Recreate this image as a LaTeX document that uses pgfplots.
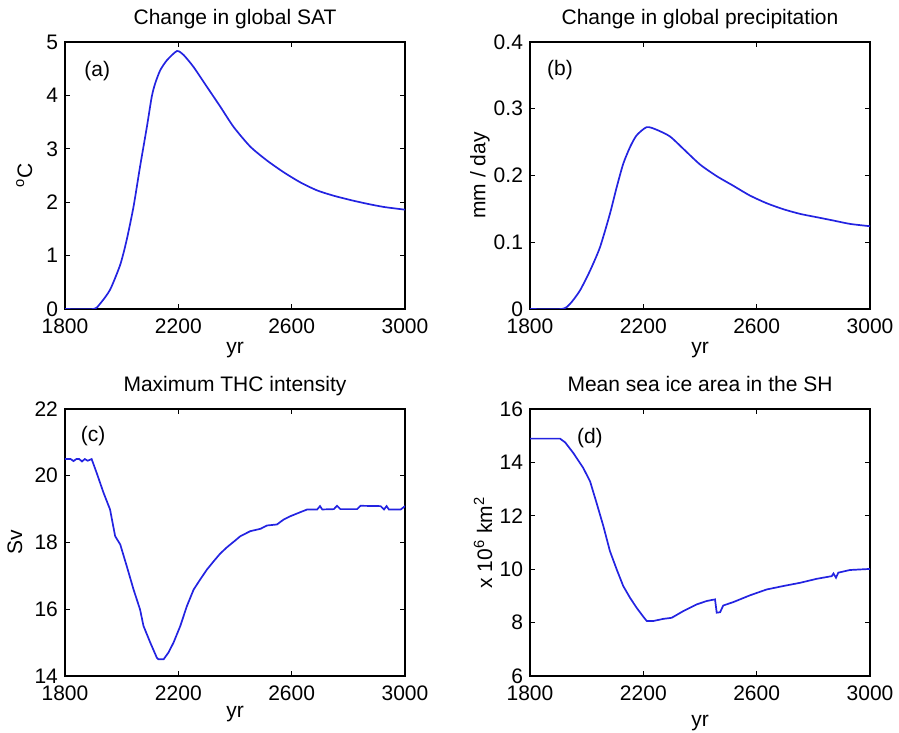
\documentclass[border=0pt]{standalone}
\usepackage{fontspec}
\setmainfont{Liberation Sans}
\usepackage{pgfplots}
\pgfplotsset{compat=1.18}

\definecolor{mblue}{RGB}{35,35,225}

\pgfplotsset{
  every axis title/.style={at={(0.5,1.064)}, anchor=base, inner sep=0pt},
  every axis title shift=0pt,
  panel/.style={
    scale only axis,
    width=170pt, height=133.5pt,
    anchor=south west,
    xmin=1800, xmax=3000,
    xtick={1800,2200,2600,3000},
    tick align=inside,
    major tick length=2.5pt,
    axis line style={line width=0.6pt},
    every tick/.style={black, line width=0.5pt},
    font=\fontsize{10.5}{12}\selectfont,
    tick label style={font=\fontsize{10.5}{12}\selectfont},
    xticklabel style={yshift=-1.5pt},
    /pgf/number format/assume math mode=true,
    /pgf/number format/1000 sep={},
    xlabel={yr},
    xlabel style={at={(axis description cs:0.5,-0.154)}, anchor=center, inner sep=0pt},
    ylabel style={at={(axis description cs:-0.12,0.5)}, anchor=center, rotate=0, inner sep=0pt},
  },
  curve/.style={mblue, line width=0.85pt, no markers},
}

\begin{document}
\begin{tikzpicture}
\path[use as bounding box] (0,0) rectangle (449.5pt,366.5pt);

% (a)
\begin{axis}[panel, at={(32.5pt,212pt)},
  ymin=0, ymax=5, ytick={0,1,2,3,4,5},
  title={Change in global SAT}, ylabel={\textsuperscript{o}C}]
\addplot[curve, smooth, tension=0.4] coordinates {
(1800,0) (1900,0) (1924,0.10) (1959,0.36) (1995,0.83) (2018,1.30) (2042,1.92)
(2065,2.67) (2089,3.41) (2106,3.97) (2118,4.22) (2136,4.47) (2160,4.66)
(2195,4.83) (2218,4.76) (2254,4.53) (2301,4.16) (2348,3.79) (2395,3.41)
(2454,3.04) (2513,2.78) (2572,2.56) (2631,2.37) (2690,2.22) (2749,2.12)
(2808,2.04) (2867,1.97) (2926,1.91) (3000,1.86)
};
\node[anchor=center] at (rel axis cs:0.095,0.89) {(a)};
\end{axis}

% (b)
\begin{axis}[panel, at={(265pt,212pt)},
  ymin=0, ymax=0.4, ytick={0,0.1,0.2,0.3,0.4},
  yticklabel style={/pgf/number format/fixed},
  title={Change in global precipitation}, ylabel={mm / day},
  ylabel style={at={(axis description cs:-0.147,0.5)}, rotate=0}]
\addplot[curve, smooth, tension=0.4] coordinates {
(1800,0) (1912,0) (1941,0.0075) (1976,0.0275) (2012,0.0575) (2047,0.0925)
(2082,0.1425) (2106,0.1825) (2129,0.2175) (2153,0.2425) (2176,0.26)
(2212,0.2725) (2247,0.2685) (2294,0.2585) (2341,0.24) (2400,0.2165)
(2459,0.199) (2518,0.1845) (2576,0.17) (2635,0.1585) (2694,0.1495)
(2753,0.1425) (2812,0.1375) (2871,0.1325) (2929,0.1275) (3000,0.124)
};
\node[anchor=center] at (rel axis cs:0.088,0.895) {(b)};
\end{axis}

% (c)
\begin{axis}[panel, at={(32.5pt,28.5pt)},
  ymin=14, ymax=22, ytick={14,16,18,20,22},
  title={Maximum THC intensity}, ylabel={Sv},
  ylabel style={at={(axis description cs:-0.147,0.5)}},
  xlabel style={at={(axis description cs:0.5,-0.142)}}]
\addplot[curve] coordinates {
(1800,20.5) (1820,20.5) (1830,20.44) (1840,20.5) (1850,20.5) (1860,20.43)
(1870,20.5) (1880,20.45) (1894,20.5) (1912,20.08) (1936,19.49) (1959,18.99)
(1977,18.19) (1995,17.94) (2018,17.29) (2042,16.59) (2065,15.99) (2077,15.5)
(2101,15.0) (2124,14.55) (2130,14.5) (2148,14.5) (2165,14.7) (2183,15.0)
(2207,15.5) (2230,16.09) (2254,16.59) (2277,16.89) (2301,17.19) (2325,17.44)
(2348,17.67) (2372,17.86) (2395,18.02) (2419,18.19) (2454,18.34) (2490,18.41)
(2513,18.51) (2548,18.54) (2572,18.69) (2596,18.79) (2631,18.91) (2655,18.99)
(2690,18.99) (2700,19.09) (2708,18.99) (2749,19.0) (2760,19.1) (2772,19.0)
(2831,19.0) (2843,19.1) (2914,19.09) (2926,18.99) (2935,19.09) (2943,18.99)
(2985,18.99) (3000,19.09)
};
\node[anchor=center] at (rel axis cs:0.083,0.9) {(c)};
\end{axis}

% (d)
\begin{axis}[panel, at={(265pt,28.5pt)},
  ymin=6, ymax=16, ytick={6,8,10,12,14,16},
  title={Mean sea ice area in the SH},
  ylabel={x 10\textsuperscript{6} km\textsuperscript{2}},
  ylabel style={at={(axis description cs:-0.138,0.5)}},
  xlabel style={at={(axis description cs:0.5,-0.176)}}]
\addplot[curve] coordinates {
(1800,14.89) (1906,14.89) (1924,14.75) (1953,14.35) (1988,13.79) (2012,13.29)
(2035,12.48) (2059,11.61) (2082,10.68) (2106,9.99) (2129,9.37) (2153,8.93)
(2176,8.56) (2200,8.22) (2212,8.06) (2235,8.06) (2271,8.14) (2300,8.18)
(2341,8.43) (2388,8.68) (2424,8.81) (2453,8.87) (2459,8.37) (2471,8.39)
(2482,8.64) (2518,8.77) (2576,9.02) (2635,9.24) (2694,9.37) (2753,9.49)
(2812,9.64) (2865,9.74) (2871,9.84) (2880,9.68) (2888,9.87) (2929,9.97)
(3000,10.01)
};
\node[anchor=center] at (rel axis cs:0.176,0.89) {(d)};
\end{axis}
\end{tikzpicture}
\end{document}
